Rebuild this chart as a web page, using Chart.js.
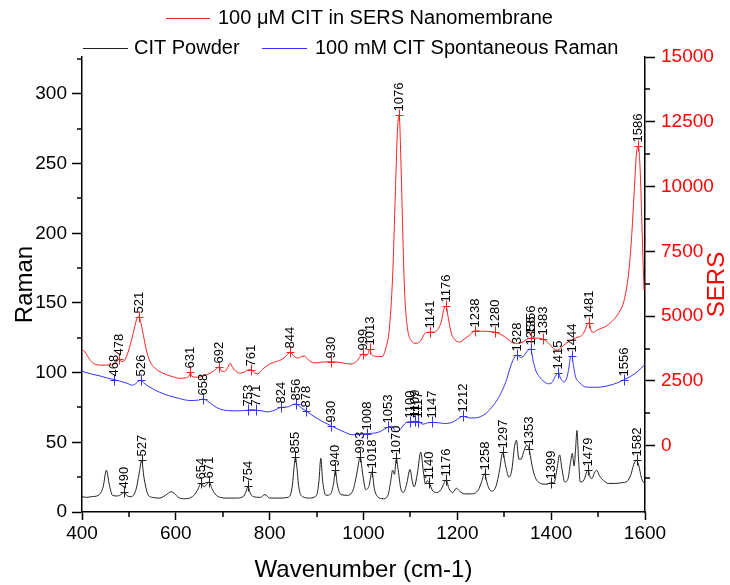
<!DOCTYPE html>
<html>
<head>
<meta charset="utf-8">
<script src="https://cdn.jsdelivr.net/npm/chart.js@4"></script>
<style>
  html, body { margin: 0; padding: 0; background: #fff; }
  #wrap { width: 730px; height: 585px; }
</style>
</head>
<body>
<div id="wrap"><canvas id="chart1"></canvas></div>
<script>
// [wavenumber, intensity] pairs for each spectrum
const powder = [
  [400, 11], [410, 10.5], [420, 11], [435, 12], [445, 18], [452, 30], [458, 20], [465, 12], [475, 11.5], [485, 13],
  [490, 14.5], [495, 12], [505, 11], [515, 16], [522, 28], [527, 37], [532, 25], [540, 13], [550, 10.5], [565, 10],
  [578, 12], [590, 14.5], [598, 13], [605, 10.5], [620, 9.5], [635, 11], [645, 15], [652, 20], [654, 21], [660, 18],
  [666, 20], [671, 21.5], [678, 16], [686, 12], [695, 10.5], [710, 10], [730, 10], [745, 11.5], [750, 15], [754, 18.5],
  [758, 14], [765, 11], [780, 10.5], [790, 12.5], [800, 10], [820, 10], [840, 10.5], [848, 18], [852, 32], [855, 39.5],
  [858, 32], [862, 18], [870, 11], [885, 10], [900, 12], [905, 22], [909, 38.5], [913, 22], [920, 12], [930, 13],
  [936, 20], [940, 30], [944, 20], [952, 12.5], [965, 12], [978, 16], [986, 28], [993, 39.5], [998, 28], [1005, 16],
  [1012, 19], [1018, 29], [1023, 17], [1030, 11], [1042, 9.5], [1052, 12], [1058, 22], [1062, 30], [1066, 27], [1070, 38.5],
  [1074, 30], [1080, 16], [1085, 14], [1092, 20], [1099, 30.5], [1104, 22], [1108, 18], [1115, 28], [1122, 43], [1128, 28],
  [1132, 20], [1136, 22.5], [1140, 21], [1148, 15], [1156, 14], [1165, 16], [1172, 21], [1176, 23], [1182, 17], [1190, 14],
  [1198, 17], [1205, 15], [1215, 13], [1230, 13], [1245, 16], [1252, 22], [1258, 27.5], [1264, 20], [1272, 15], [1282, 18],
  [1290, 30], [1297, 43], [1303, 33], [1310, 25], [1316, 30], [1322, 47], [1326, 51.5], [1331, 38], [1336, 38], [1342, 44],
  [1348, 48], [1353, 45], [1360, 32], [1367, 24], [1375, 21], [1385, 20], [1392, 20], [1399, 21], [1406, 21], [1412, 30],
  [1418, 41], [1423, 31], [1429, 21.5], [1436, 24], [1441, 35], [1445, 42], [1449, 33], [1452, 45], [1455, 58.5], [1458, 40],
  [1462, 21.5], [1470, 23], [1476, 29], [1479, 30], [1483, 25], [1487, 24], [1492, 28], [1497, 30], [1503, 26], [1512, 22.5],
  [1522, 20.5], [1535, 20.5], [1550, 21], [1562, 22], [1570, 27], [1576, 34], [1582, 37], [1587, 33], [1592, 25], [1596, 21.5],
  [1600, 21]
];

const spontaneous = [
  [400, 101], [420, 99], [440, 97.5], [455, 96], [468, 95], [480, 94], [495, 92.5], [508, 91], [516, 92.5], [521, 94],
  [526, 94.5], [532, 92.5], [545, 89.5], [565, 86], [585, 83.5], [608, 81.4], [630, 80], [648, 80.3], [658, 81], [668, 79.5],
  [680, 76.5], [693, 74], [710, 72.8], [730, 72.6], [753, 73], [762, 73.5], [771, 73], [785, 72.5], [795, 71.8], [810, 73],
  [824, 75], [840, 75.5], [849, 77], [856, 77.5], [866, 75], [878, 72.5], [890, 69.5], [902, 67], [915, 64.5], [930, 62],
  [945, 59.5], [959, 57.4], [975, 55.5], [990, 55.5], [1000, 56], [1008, 56.3], [1020, 56.5], [1033, 57.4], [1045, 59.5], [1053, 61],
  [1060, 61.5], [1067, 58.5], [1072, 57.5], [1080, 60], [1090, 64], [1100, 64.8], [1109, 65], [1117, 64.8], [1127, 63], [1137, 64],
  [1147, 64.3], [1160, 64], [1175, 63.5], [1190, 64.5], [1200, 66.5], [1212, 68.7], [1225, 67.5], [1238, 67.5], [1250, 68.5], [1262, 71],
  [1274, 75.4], [1285, 80.5], [1296, 87.4], [1305, 95], [1312, 103], [1318, 108.5], [1324, 112], [1328, 112.5], [1334, 111], [1340, 111.5],
  [1346, 114], [1352, 116.5], [1356, 117], [1362, 108], [1367, 101.7], [1375, 97], [1385, 93.5], [1394, 92], [1402, 93], [1409, 97.5],
  [1415, 99.5], [1420, 96], [1427, 93.3], [1433, 96], [1438, 104], [1441, 111], [1444, 111.8], [1448, 104], [1452, 97], [1460, 93],
  [1473, 89.7], [1490, 89.5], [1508, 89.7], [1525, 91], [1540, 92.5], [1556, 95], [1570, 97.5], [1585, 101], [1600, 106]
];

const sers = [
  [400, 3700], [405, 3650], [412, 3450], [420, 3240], [430, 3130], [440, 3110], [450, 3110], [460, 3110], [468, 3140], [474, 3250],
  [478, 3340], [483, 3260], [488, 3250], [495, 3450], [503, 3900], [510, 4400], [516, 4850], [521, 4980], [526, 4700], [531, 4250],
  [537, 3700], [545, 3250], [555, 3000], [572, 2800], [590, 2680], [608, 2600], [622, 2620], [628, 2700], [631, 2830], [634, 2680],
  [645, 2640], [660, 2700], [675, 2820], [685, 2950], [692, 3030], [698, 2880], [704, 2860], [710, 3000], [716, 3180], [721, 3020],
  [728, 2870], [736, 2800], [745, 2830], [755, 2930], [761, 2930], [768, 2800], [775, 2780], [785, 2950], [800, 3150], [815, 3250],
  [828, 3350], [838, 3520], [844, 3600], [852, 3450], [860, 3380], [868, 3440], [874, 3460], [882, 3320], [895, 3190], [910, 3220],
  [930, 3240], [950, 3210], [973, 3150], [985, 3250], [994, 3470], [999, 3540], [1004, 3460], [1010, 3560], [1013, 3720], [1017, 3520],
  [1025, 3450], [1040, 3440], [1048, 3800], [1055, 4500], [1062, 6500], [1068, 9800], [1072, 12000], [1076, 12780], [1080, 10800], [1084, 8000],
  [1088, 5800], [1094, 4500], [1102, 4050], [1112, 3950], [1122, 4050], [1132, 4350], [1141, 4380], [1150, 4380], [1158, 4480], [1166, 4800],
  [1171, 5250], [1176, 5380], [1181, 4900], [1187, 4350], [1195, 4080], [1205, 4000], [1215, 4120], [1225, 4250], [1238, 4440], [1250, 4420],
  [1265, 4410], [1280, 4380], [1295, 4270], [1310, 4080], [1320, 3960], [1328, 3950], [1340, 4000], [1348, 4100], [1356, 4150], [1370, 4150],
  [1383, 4110], [1395, 3950], [1405, 3750], [1413, 3690], [1422, 3800], [1432, 3950], [1444, 4080], [1455, 4180], [1465, 4250], [1472, 4450],
  [1477, 4700], [1481, 4740], [1486, 4400], [1490, 4380], [1500, 4480], [1515, 4590], [1530, 4800], [1545, 5150], [1553, 5450], [1560, 6000],
  [1566, 6800], [1572, 8200], [1577, 9800], [1582, 11300], [1586, 11550], [1590, 10500], [1594, 8200], [1598, 6000]
];

// labelled peak positions (cm-1)
const powderPeaks = [490, 527, 654, 671, 754, 855, 940, 993, 1018, 1070, 1140, 1176, 1258, 1297, 1353, 1399, 1479, 1582];
const spontPeaks = [468, 526, 658, 753, 771, 824, 856, 878, 930, 1008, 1053, 1100, 1109, 1117, 1147, 1212, 1328, 1356, 1415, 1444, 1556];
const sersPeaks = [478, 521, 631, 692, 761, 844, 930, 999, 1013, 1076, 1141, 1176, 1238, 1280, 1356, 1383, 1481, 1586];

// axis ticks
const wnTicks = [400, 600, 800, 1000, 1200, 1400, 1600];
const wnMinor = [500, 700, 900, 1100, 1300, 1500];
const ramanTicks = [0, 50, 100, 150, 200, 250, 300];
const ramanMinor = [25, 75, 125, 175, 225, 275, 325];
const sersTicks = [0, 2500, 5000, 7500, 10000, 12500, 15000];
const sersMinor = [-1250, 1250, 3750, 6250, 8750, 11250, 13750];

const family = "'Liberation Sans', Arial, sans-serif";
const BLACK = '#222222', BLUE = '#3333ff', RED = '#ff2020';

const toPoints = arr => arr.map(p => ({ x: p[0], y: p[1] }));

const peakSets = [
  { data: powder, peaks: powderPeaks, axis: 'y', color: BLACK },
  { data: spontaneous, peaks: spontPeaks, axis: 'y', color: BLUE },
  { data: sers, peaks: sersPeaks, axis: 'y2', color: RED }
];

// "+" markers and rotated wavenumber labels above each peak
const peakLabels = {
  id: 'peakLabels',
  afterDatasetsDraw(chart) {
    const { ctx, scales } = chart;
    ctx.save();
    ctx.lineWidth = 1;
    ctx.font = '13px ' + family;
    peakSets.forEach(set => {
      const ys = scales[set.axis];
      set.peaks.forEach(wn => {
        const pt = set.data.find(p => p[0] === wn);
        const px = Math.round(scales.x.getPixelForValue(wn)) + 0.5;
        const py = Math.round(ys.getPixelForValue(pt[1])) + 0.5;
        ctx.strokeStyle = set.color;
        ctx.beginPath();
        ctx.moveTo(px, py - 6); ctx.lineTo(px, py + 5);
        ctx.moveTo(px - 4, py); ctx.lineTo(px + 4, py);
        ctx.stroke();
        ctx.save();
        ctx.translate(px, py - 4);
        ctx.rotate(-Math.PI / 2);
        ctx.fillStyle = '#000';
        ctx.textAlign = 'left';
        ctx.textBaseline = 'middle';
        ctx.fillText(String(wn), 0, 0);
        ctx.restore();
      });
    });
    ctx.restore();
  }
};

// minor ticks on all three axes plus the right-hand axis title
const minorTicks = {
  id: 'minorTicks',
  afterDraw(chart) {
    const { ctx, chartArea: a, scales } = chart;
    ctx.save();
    ctx.strokeStyle = '#000';
    ctx.lineWidth = 1.5;
    ctx.beginPath();
    wnMinor.forEach(v => {
      const p = Math.round(scales.x.getPixelForValue(v));
      ctx.moveTo(p, a.bottom); ctx.lineTo(p, a.bottom + 5);
    });
    ramanMinor.forEach(v => {
      const p = Math.round(scales.y.getPixelForValue(v));
      ctx.moveTo(a.left, p); ctx.lineTo(a.left - 5, p);
    });
    sersMinor.forEach(v => {
      const p = Math.round(scales.y2.getPixelForValue(v));
      ctx.moveTo(a.right, p); ctx.lineTo(a.right + 5, p);
    });
    ctx.stroke();

    ctx.translate(717, (a.top + a.bottom) / 2);
    ctx.rotate(-Math.PI / 2);
    ctx.fillStyle = '#ff0000';
    ctx.font = '24px ' + family;
    ctx.textAlign = 'center';
    ctx.textBaseline = 'middle';
    ctx.fillText('SERS', 0, 0);
    ctx.restore();
  }
};

// two-row legend above the plot
const seriesLegend = {
  id: 'seriesLegend',
  afterDraw(chart) {
    const { ctx } = chart;
    const ds = chart.data.datasets;
    const rows = [
      { i: 2, x0: 166, x1: 210, tx: 218, y: 18 },
      { i: 0, x0: 83, x1: 128, tx: 134, y: 48 },
      { i: 1, x0: 262, x1: 307, tx: 315, y: 48 }
    ];
    ctx.save();
    ctx.font = '20px ' + family;
    ctx.textBaseline = 'middle';
    ctx.textAlign = 'left';
    rows.forEach(r => {
      ctx.strokeStyle = ds[r.i].borderColor;
      ctx.lineWidth = 1;
      ctx.beginPath();
      ctx.moveTo(r.x0, r.y + 0.5); ctx.lineTo(r.x1, r.y + 0.5);
      ctx.stroke();
      ctx.fillStyle = '#000';
      ctx.fillText(ds[r.i].label, r.tx, r.y);
    });
    ctx.restore();
  }
};

const tickFont = { family: family, size: 19 };
const axisGrid = { drawOnChartArea: false, tickLength: 10, tickColor: '#000', tickWidth: 1.5 };
const axisBorder = { color: '#000', width: 1.5 };

new Chart(document.getElementById('chart1'), {
  type: 'line',
  data: {
    datasets: [
      { label: 'CIT Powder', data: toPoints(powder), borderColor: BLACK, yAxisID: 'y' },
      { label: '100 mM CIT Spontaneous Raman', data: toPoints(spontaneous), borderColor: BLUE, yAxisID: 'y' },
      { label: '100 \u03bcM CIT in SERS Nanomembrane', data: toPoints(sers), borderColor: RED, yAxisID: 'y2' }
    ]
  },
  options: {
    animation: false,
    responsive: true,
    maintainAspectRatio: false,
    layout: { padding: { top: 57, left: 0, right: 0, bottom: 0 } },
    elements: {
      point: { radius: 0 },
      line: { borderWidth: 1, cubicInterpolationMode: 'monotone' }
    },
    scales: {
      x: {
        type: 'linear', min: 400, max: 1600,
        afterBuildTicks: s => { s.ticks = wnTicks.map(v => ({ value: v })); },
        afterFit: s => { s.height = 73; },
        border: axisBorder,
        grid: { ...axisGrid, tickLength: 8 },
        ticks: { color: '#000', font: tickFont, padding: 2, maxRotation: 0, autoSkip: false, callback: v => String(v) },
        title: { display: true, text: 'Wavenumber (cm-1)', color: '#000', font: { family: family, size: 24 }, padding: { top: 0, bottom: 0 } }
      },
      y: {
        type: 'linear', position: 'left', min: 0, max: 326.5,
        afterBuildTicks: s => { s.ticks = ramanTicks.map(v => ({ value: v })); },
        afterFit: s => { s.width = 82; },
        border: axisBorder,
        grid: axisGrid,
        ticks: { color: '#000', font: tickFont, padding: 5, autoSkip: false, callback: v => String(v) },
        title: { display: true, text: 'Raman', color: '#000', font: { family: family, size: 24 }, padding: { top: 11, bottom: 0 } }
      },
      y2: {
        type: 'linear', position: 'right', min: -2560, max: 15000,
        afterBuildTicks: s => { s.ticks = sersTicks.map(v => ({ value: v })); },
        afterFit: s => { s.width = 85; },
        border: axisBorder,
        grid: axisGrid,
        ticks: { color: '#ff0000', font: tickFont, padding: 6, autoSkip: false, callback: v => String(v) }
      }
    },
    plugins: {
      legend: { display: false },
      tooltip: { enabled: false }
    }
  },
  plugins: [peakLabels, minorTicks, seriesLegend]
});
</script>
</body>
</html>
